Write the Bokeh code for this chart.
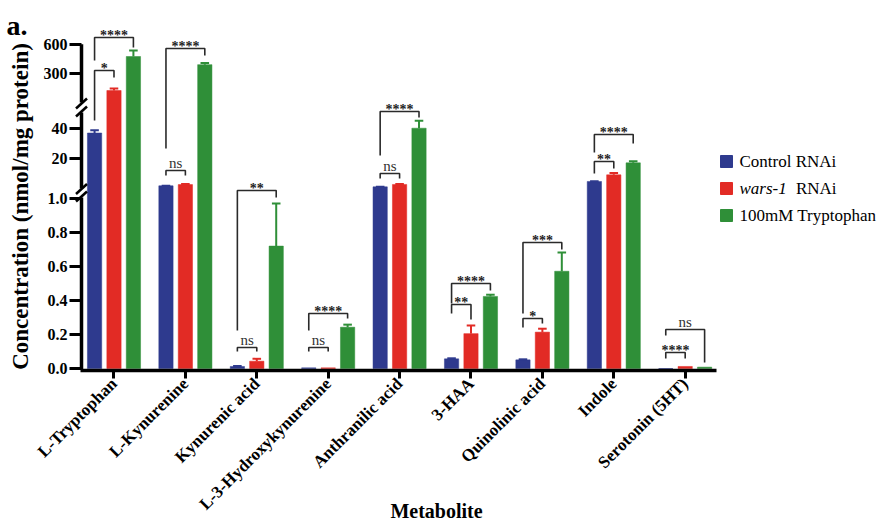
import numpy as np
from math import pi
from bokeh.plotting import figure
from bokeh.models import FixedTicker, Label, Range1d
from bokeh.core.properties import value
from bokeh.embed import file_html
from bokeh.resources import INLINE

# ---------------- data ----------------
categories = ["L-Tryptophan", "L-Kynurenine", "Kynurenic acid", "L-3-Hydroxykynurenine",
              "Anthranilic acid", "3-HAA", "Quinolinic acid", "Indole", "Serotonin (5HT)"]
series_names = ["Control RNAi", "wars-1 RNAi", "100mM Tryptophan"]
control = [37.0, 1.8, 0.012, 0.004, 1.1, 0.057, 0.051, 4.7, 0.0]
control_err = [1.8, 0.1, 0.002, 0.0, 0.1, 0.003, 0.003, 0.2, 0.0]
wars = [122.0, 2.6, 0.043, 0.004, 2.7, 0.205, 0.214, 9.1, 0.012]
wars_err = [22.0, 0.4, 0.014, 0.0, 0.3, 0.048, 0.02, 1.2, 0.0]
trp = [474.0, 390.0, 0.72, 0.243, 40.2, 0.424, 0.572, 17.1, 0.008]
trp_err = [62.0, 18.0, 0.25, 0.015, 5.0, 0.01, 0.11, 1.1, 0.0]
y_tick_values = [0.0, 0.2, 0.4, 0.6, 0.8, 1.0, 20, 40, 300, 600]
y_tick_labels = ["0.0", "0.2", "0.4", "0.6", "0.8", "1.0", "20", "40", "300", "600"]

# significance brackets: (category, series a, series b, label, top, left leg end, right leg end)
# heights in display units of the broken axis
brackets = [
    (0, 0, 1, "*", 298, 248, 291), (0, 0, 2, "****", 331, 308, 321),
    (1, 0, 1, "ns", 198, 193, 193), (1, 0, 2, "****", 320, 220, 313),
    (2, 0, 1, "ns", 21, 17, 17), (2, 0, 2, "**", 178, 38, 171),
    (3, 0, 1, "ns", 21, 17, 17), (3, 0, 2, "****", 55, 38, 50),
    (4, 0, 1, "ns", 195, 190, 190), (4, 0, 2, "****", 257, 213, 251),
    (5, 0, 1, "**", 64, 55, 49), (5, 0, 2, "****", 85, 65, 78),
    (6, 0, 1, "*", 50, 41, 45), (6, 0, 2, "***", 126, 55, 119),
    (7, 0, 1, "**", 207, 195, 200), (7, 0, 2, "****", 234, 216, 225),
    (8, 0, 1, "****", 16, 10, 10), (8, 0, 2, "ns", 39, 33, 6),
]

colors = ["#2e3a8e", "#e22b25", "#2f8f38"]

# ---------------- broken axis transform ----------------
SEGS = [(0.0, 1.0, 0.0, 170.0), (1.0, 50.0, 181.5, 255.0), (50.0, 600.0, 271.0, 271.0 + 550 * 29 / 300)]


def f(v):
    for lo, hi, u0, u1 in SEGS:
        if v <= hi or hi == 600.0:
            return round(u0 + (v - lo) * (u1 - u0) / (hi - lo), 3)


W, H = 890, 521
PX = 71.4          # px per category
AX0 = -0.455       # y axis position (category units)
BASE = 368         # baseline pixel row
offsets = [-0.272, 0.0, 0.272]


def xpx(px):
    return AX0 + (px - 81) / PX


p = figure(width=W, height=H, x_range=Range1d(xpx(0), xpx(W)), y_range=Range1d(BASE - H, BASE),
           output_backend="svg", toolbar_location=None,
           min_border_left=0, min_border_right=0, min_border_top=0, min_border_bottom=0)
p.outline_line_color = None
p.xgrid.visible = False
p.ygrid.visible = False
p.background_fill_color = "white"

# bars + error bars
for k, (vals, errs) in enumerate([(control, control_err), (wars, wars_err), (trp, trp_err)]):
    xs = np.arange(len(categories)) + offsets[k]
    tops = [f(v) for v in vals]
    p.vbar(x=xs, top=tops, bottom=0, width=0.2, fill_color=colors[k], line_color=colors[k], line_width=0.5)
    ex = [x for x, e in zip(xs, errs) if e > 0]
    e0 = [f(v) for v, e in zip(vals, errs) if e > 0]
    e1 = [f(v + e) for v, e in zip(vals, errs) if e > 0]
    p.segment(x0=ex, y0=e0, x1=ex, y1=e1, line_color=colors[k], line_width=2)
    p.segment(x0=[x - 0.06 for x in ex], y0=e1, x1=[x + 0.06 for x in ex], y1=e1,
              line_color=colors[k], line_width=2)

# brackets
bx, by, sx, sy, st, nx, ny, nt = [], [], [], [], [], [], [], []
for c, a, b, lab, top, la, lb in brackets:
    xa, xb = c + offsets[a], c + offsets[b]
    bx.append([xa, xa, xb, xb])
    by.append([la, top, top, lb])
    if lab == "ns":
        nx.append((xa + xb) / 2); ny.append(top + 7.5); nt.append(lab)
    else:
        sx.append((xa + xb) / 2); sy.append(top + 2.5); st.append(lab)
p.multi_line(xs=bx, ys=by, line_color="#2a2a2a", line_width=1.6)
p.text(x=sx, y=sy, text=st, text_align="center", text_baseline="alphabetic",
       text_font=value("Liberation Serif"), text_font_size="14px", text_font_style="bold",
       text_color="#222222")
p.text(x=nx, y=ny, text=nt, text_align="center", text_baseline="alphabetic",
       text_font=value("Liberation Serif"), text_font_size="15px", text_color="#333333")

# y axis (broken) line drawn as glyphs
p.segment(x0=[AX0] * 3, y0=[-1.5, 180, 266], x1=[AX0] * 3, y1=[171, 256, f(600)],
          line_color="black", line_width=3.5)
dx = 5.5 / PX
brk = [172, 179.5, 257, 265]
p.segment(x0=[AX0 - dx] * 4, y0=[u - 5 for u in brk], x1=[AX0 + dx] * 4, y1=[u + 5 for u in brk],
          line_color="black", line_width=2.5)

# axes (fixed inside the frame)
ticks_u = [f(v) for v in y_tick_values]
p.yaxis.fixed_location = AX0
p.yaxis.bounds = (0, f(600))
p.yaxis.ticker = FixedTicker(ticks=ticks_u)
p.yaxis.major_label_overrides = {t: l for t, l in zip(ticks_u, y_tick_labels)}
p.yaxis.axis_line_color = None
p.yaxis.minor_tick_line_color = None
p.yaxis.major_tick_in = 0
p.yaxis.major_tick_out = 12
p.yaxis.major_tick_line_width = 3
p.yaxis.major_label_standoff = 2
p.yaxis.major_label_text_font = "Liberation Serif"
p.yaxis.major_label_text_font_style = "bold"
p.yaxis.major_label_text_font_size = "16px"
p.yaxis.major_label_text_color = "black"

p.xaxis.fixed_location = -1.5
p.xaxis.ticker = FixedTicker(ticks=list(range(len(categories))))
p.xaxis.major_label_overrides = {i: c for i, c in enumerate(categories)}
p.xaxis.bounds = (AX0 - 1.5 / PX, 8.445)
p.xaxis.axis_line_width = 3.5
p.xaxis.axis_line_color = "black"
p.xaxis.minor_tick_line_color = None
p.xaxis.major_tick_in = 0
p.xaxis.major_tick_out = 8
p.xaxis.major_tick_line_width = 3
p.xaxis.major_label_orientation = pi / 4
p.xaxis.major_label_standoff = 3
p.xaxis.major_label_text_font = "Liberation Serif"
p.xaxis.major_label_text_font_style = "bold"
p.xaxis.major_label_text_font_size = "17px"
p.xaxis.major_label_text_color = "black"

# titles
p.add_layout(Label(x=xpx(20), y=BASE - 206, text="Concentration (nmol/mg protein)", angle=pi / 2,
                   text_align="center", text_baseline="middle", text_font="Liberation Serif",
                   text_font_style="bold", text_font_size="23px", text_color="black"))
p.add_layout(Label(x=xpx(436), y=BASE - 510, text="Metabolite", text_align="center",
                   text_baseline="middle", text_font="Liberation Serif", text_font_style="bold",
                   text_font_size="20px", text_color="black"))
p.add_layout(Label(x=xpx(6), y=BASE - 25, text="a.", text_align="left",
                   text_baseline="alphabetic", text_font="Liberation Serif", text_font_style="bold",
                   text_font_size="28px", text_color="black"))

# legend
leg_y = [161, 188, 215]
leg_u = [BASE - y for y in leg_y]
p.rect(x=[xpx(726)] * 3, y=leg_u, width=12 / PX, height=12, fill_color=colors, line_color=colors)
tx = xpx(739)
p.text(x=[tx, tx], y=[leg_u[0], leg_u[2]], text=[series_names[0], series_names[2]],
       text_baseline="middle", text_font=value("Liberation Serif"), text_font_size="17px",
       text_color="black")
p.text(x=[tx], y=[leg_u[1]], text=["wars-1"], text_baseline="middle",
       text_font=value("Liberation Serif"), text_font_size="17px", text_font_style="italic",
       text_color="black")
p.text(x=[xpx(836)], y=[leg_u[1]], text=["RNAi"], text_baseline="middle", text_align="right",
       text_font=value("Liberation Serif"), text_font_size="17px", text_color="black")

open("out.html", "w").write(file_html(p, INLINE))
